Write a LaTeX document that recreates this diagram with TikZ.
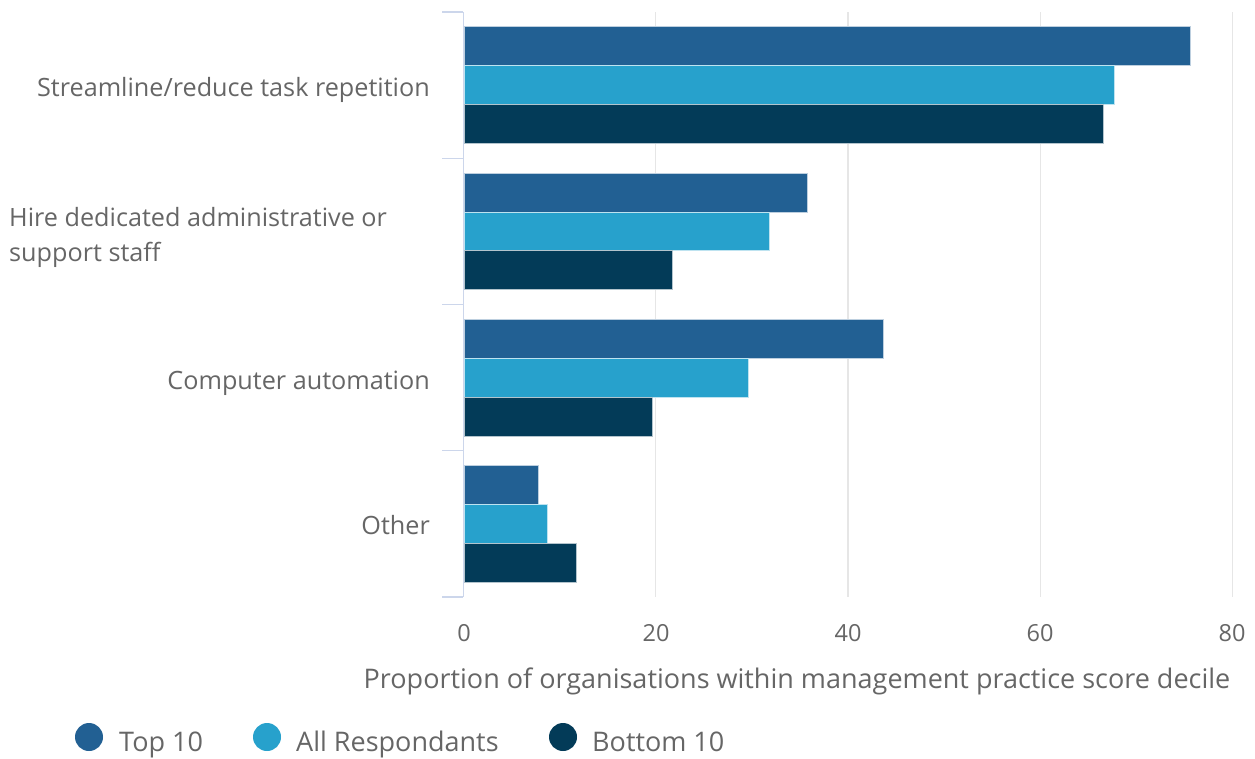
\documentclass[tikz,border=0pt]{standalone}
\usepackage{fontspec}
\setmainfont{Open Sans}
\definecolor{topc}{HTML}{226093}
\definecolor{allc}{HTML}{27A1CC}
\definecolor{botc}{HTML}{033B58}
\definecolor{gridc}{HTML}{E6E6E6}
\definecolor{axisc}{HTML}{CCD6EB}
\definecolor{txt}{HTML}{666666}
\begin{document}
\begin{tikzpicture}[x=1pt,y=-1pt,
  lbl/.style={text=txt,font=\fontsize{25.2}{34.3}\selectfont,inner sep=0pt},
  ticklbl/.style={text=txt,font=\fontsize{23.5}{28}\selectfont,inner sep=0pt,anchor=base},
  ttl/.style={text=txt,font=\fontsize{27}{32}\selectfont,inner sep=0pt,anchor=base},
  leg/.style={text=txt,font=\fontsize{27}{32}\selectfont,inner sep=0pt,anchor=base west},
  barT/.style={fill=topc,draw=white!70!topc,line width=0.6pt},
  barA/.style={fill=allc,draw=white!70!allc,line width=0.6pt},
  barB/.style={fill=botc,draw=white!70!botc,line width=0.6pt}]
\useasboundingbox (0,0) rectangle (1255,758);
% grid
\foreach \gx in {655.7,847.9,1040.1,1232.3}{\draw[gridc,line width=1.2pt] (\gx,12) -- (\gx,597);}
% bars
\def\bh{38.9}
\foreach \k/\a/\b/\c in {0/1190.7/1114.3/1103.3,1/807.3/769/672.7,2/883.5/748.5/652.5,3/538.3/547/576.3}{
  \pgfmathsetmacro\ty{12+146.25*\k+14.7}
  \draw[barT] (464,\ty) rectangle (\a,\ty+\bh);
  \draw[barA] (464,\ty+\bh) rectangle (\b,\ty+2*\bh);
  \draw[barB] (464,\ty+2*\bh) rectangle (\c,\ty+3*\bh);
}
% axis
\draw[axisc,line width=1.3pt] (463.3,12) -- (463.3,597);
\foreach \k in {0,1,2,3,4}{\draw[axisc,line width=1.3pt] (442,12+146.25*\k) -- (463.3,12+146.25*\k);}
% category labels
\node[lbl,anchor=base east] (c1) at (430,96.7) {Streamline/reduce task repetition};
\node[lbl,anchor=base west,align=left] (c2) at (9,261) {Hire dedicated administrative or\\support staff};
\node[lbl,anchor=base east] (c3) at (430,389) {Computer automation};
\node[lbl,anchor=base east] (c4) at (430,534) {Other};
% tick labels
\foreach \v/\gx in {0/464,20/656,40/848,60/1040,80/1232}{\node[ticklbl] (t\v) at (\gx,641.7) {\v};}
\node[ttl] (xt) at (797,688.3) {Proportion of organisations within management practice score decile};
% legend
\fill[topc] (89,737) circle (14);
\node[leg] (l1) at (119,751) {Top 10};
\fill[allc] (267,737) circle (14);
\node[leg] (l2) at (296,751) {All Respondants};
\fill[botc] (563,737) circle (14);
\node[leg] (l3) at (592,751) {Bottom 10};
\end{tikzpicture}
\end{document}
